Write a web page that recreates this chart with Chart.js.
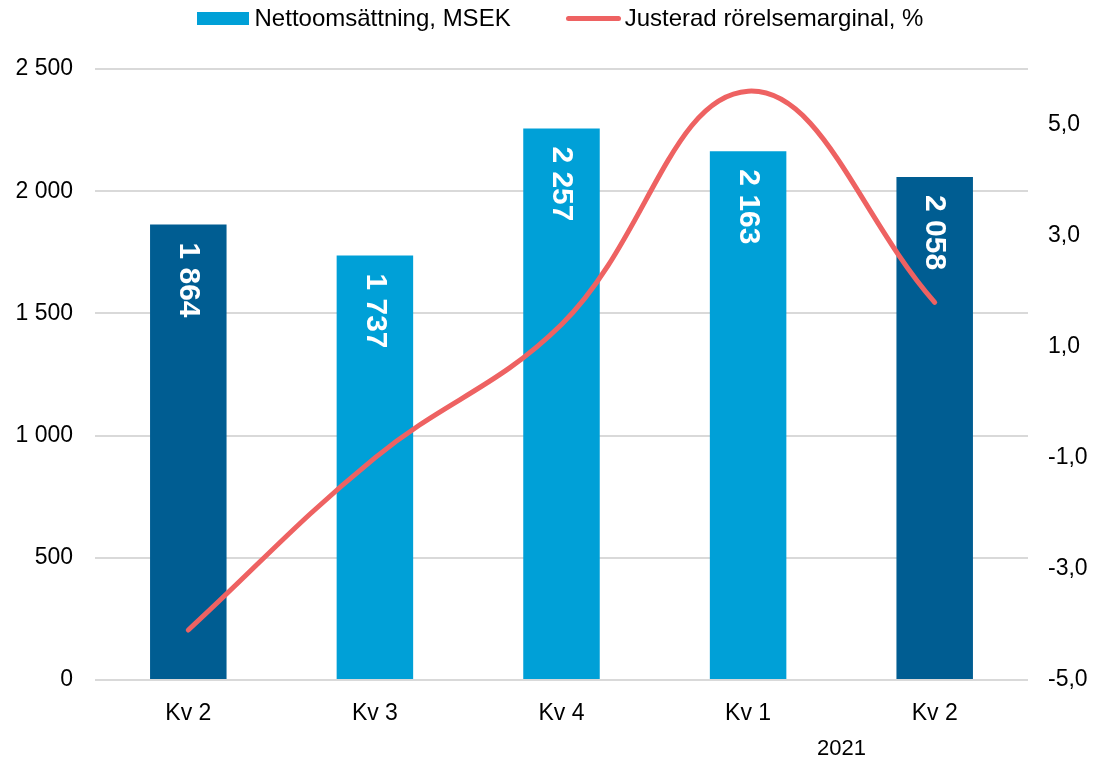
<!DOCTYPE html>
<html>
<head>
<meta charset="utf-8">
<script src="https://cdn.jsdelivr.net/npm/chart.js@4/dist/chart.umd.min.js"></script>
<style>
  html, body { margin: 0; padding: 0; background: #fff; }
  #wrap { position: relative; width: 1094px; height: 762px; font-family: "Liberation Sans", Arial, sans-serif; }
  #legend { position: absolute; top: 4px; left: 13px; width: 1094px; display: flex; justify-content: center; gap: 55px; font-size: 24px; color: #000; }
  .item { display: flex; align-items: center; height: 28px; }
  .box { width: 52px; height: 13px; background: #00a0d7; margin-right: 6px; }
  .line { width: 55px; height: 5px; border-radius: 3px; background: #ee6262; margin-right: 4px; }
  canvas { position: absolute; top: 0; left: 0; }
</style>
</head>
<body>
<div id="wrap">
  <canvas id="c" width="1094" height="762"></canvas>
  <div id="legend">
    <div class="item"><span class="box"></span><span>Nettoomsättning, MSEK</span></div>
    <div class="item"><span class="line"></span><span>Justerad rörelsemarginal, %</span></div>
  </div>
</div>
<script>
const quarters = ["Kv 2", "Kv 3", "Kv 4", "Kv 1", "Kv 2"];
const netSales = [1864, 1737, 2257, 2163, 2058];
const adjMargin = [-4.1, -1.0, 1.4, 5.6, 1.8];
const yearLabel = "2021";
const yearFrom = 3;
const yearTo = 4;
const marginTicks = [-5, -3, -1, 1, 3, 5];

const DARK = "#005d92";
const LIGHT = "#00a0d7";
const RED = "#ee6262";
const barColors = [DARK, LIGHT, LIGHT, LIGHT, DARK];

const FONT = "'Liberation Sans', Arial, sans-serif";

function spaced(n) {
  return String(n).replace(/\B(?=(\d{3})+(?!\d))/g, " ");
}

// white rotated value labels near the top of each bar
const barLabels = {
  id: "barLabels",
  afterDatasetDraw(chart, args) {
    if (args.index !== 0) return;
    const ctx = chart.ctx;
    const meta = chart.getDatasetMeta(0);
    ctx.save();
    ctx.fillStyle = "#fff";
    ctx.font = "bold 30px " + FONT;
    ctx.textAlign = "left";
    ctx.textBaseline = "middle";
    meta.data.forEach((bar, i) => {
      ctx.save();
      ctx.translate(bar.x, bar.y + 18);
      ctx.rotate(Math.PI / 2);
      ctx.fillText(spaced(netSales[i]), 0, 0);
      ctx.restore();
    });
    ctx.restore();
  },
};

// year under the last two quarters
const yearPlugin = {
  id: "yearPlugin",
  afterDraw(chart) {
    const x = chart.scales.x;
    const ctx = chart.ctx;
    const cx = (x.getPixelForValue(yearFrom) + x.getPixelForValue(yearTo)) / 2;
    ctx.save();
    ctx.fillStyle = "#000";
    ctx.font = "22px " + FONT;
    ctx.textAlign = "center";
    ctx.textBaseline = "middle";
    ctx.fillText(yearLabel, cx, 749);
    ctx.restore();
  },
};

new Chart(document.getElementById("c"), {
  data: {
    labels: quarters,
    datasets: [
      {
        type: "bar",
        label: "Nettoomsättning, MSEK",
        data: netSales,
        backgroundColor: barColors,
        yAxisID: "y",
        barPercentage: 0.41,
        categoryPercentage: 1,
        order: 1,
      },
      {
        type: "line",
        label: "Justerad rörelsemarginal, %",
        data: adjMargin,
        borderColor: RED,
        borderWidth: 5,
        borderCapStyle: "round",
        pointRadius: 0,
        tension: 0.4,
        yAxisID: "y1",
        order: 0,
      },
    ],
  },
  options: {
    responsive: false,
    animation: false,
    layout: { padding: { top: 69, left: 0, right: 0, bottom: 0 } },
    plugins: { legend: { display: false }, tooltip: { enabled: false } },
    scales: {
      x: {
        grid: { display: false },
        border: { display: false },
        ticks: { color: "#000", font: { family: FONT, size: 23 }, padding: 12 },
        afterFit(s) { s.height = 82; },
      },
      y: {
        position: "left",
        min: 0,
        max: 2500,
        ticks: {
          stepSize: 500,
          color: "#000",
          font: { family: FONT, size: 23 },
          padding: 22,
          callback: (v) => spaced(v),
        },
        grid: { color: "#d9d9d9", lineWidth: 2, drawTicks: false },
        border: { display: false },
        afterFit(s) { s.width = 95; },
      },
      y1: {
        position: "right",
        min: -5,
        max: 6,
        afterBuildTicks(s) { s.ticks = marginTicks.map((v) => ({ value: v })); },
        ticks: {
          color: "#000",
          font: { family: FONT, size: 23 },
          padding: 20,
          callback: (v) => v.toFixed(1).replace(".", ","),
        },
        grid: { display: false, drawTicks: false },
        border: { display: false },
        afterFit(s) { s.width = 66; },
      },
    },
  },
  plugins: [barLabels, yearPlugin],
});
</script>
</body>
</html>
